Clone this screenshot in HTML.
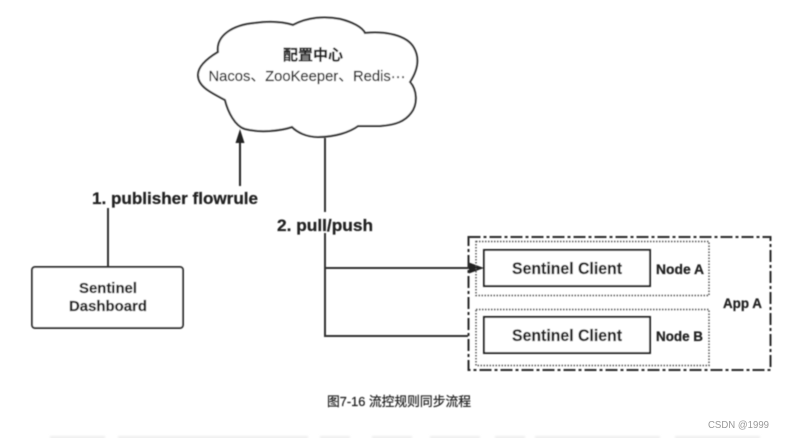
<!DOCTYPE html>
<html lang="zh">
<head>
<meta charset="utf-8">
<title>流控规则同步流程</title>
<style>
html,body{margin:0;padding:0;background:#fff;width:790px;height:438px;overflow:hidden}
svg{display:block;position:absolute;left:0;top:0}
.b{font-family:"Liberation Sans","Noto Sans CJK SC",sans-serif;font-weight:700;fill:#222;stroke:#222;stroke-width:.25px}
.r{font-family:"Liberation Sans","Noto Sans CJK SC",sans-serif;fill:#1c1c1c;stroke:#1c1c1c;stroke-width:.2px}
</style>
</head>
<body>
<svg width="790" height="438" viewBox="0 0 790 438" xmlns="http://www.w3.org/2000/svg">
<defs>
<filter id="s" x="-5%" y="-5%" width="110%" height="110%"><feGaussianBlur stdDeviation="0.4"/></filter>
<filter id="f" x="-5%" y="-100%" width="110%" height="300%"><feGaussianBlur stdDeviation="1"/></filter>
</defs>
<g filter="url(#s)">
<!-- Cloud -->
<path d="M225 100 C212 93 198 87 198 75 C198 66 208 58 218 52 C216 36 232 25 255 23 C270 21 283 22 293 25 C308 17 325 16 340 19 C352 22 362 27 365 33 C385 31 407 35 414 48 C419 57 419 68 410 82 C417 90 418 104 411 113 C405 121 396 125 380 126 L358 126 C350 132 335 137 318 137 C306 137 297 132 292 127 C280 131 260 133 245 129 C235 126 228 112 225 100 Z" fill="#fff" stroke="#333" stroke-width="2"/>
<text class="b" x="283" y="60" font-size="15" textLength="60" lengthAdjust="spacingAndGlyphs">配置中心</text>
<text class="r" x="208.500" y="81" font-size="14.500" textLength="197" lengthAdjust="spacingAndGlyphs">Nacos、ZooKeeper、Redis···</text>

<!-- Connectors -->
<path d="M108 208V267" fill="none" stroke="#333" stroke-width="2"/>
<path d="M240 186V142" fill="none" stroke="#222" stroke-width="2"/>
<path d="M240 129L235.500 143H244.500Z" fill="#222"/>
<path d="M325 138V212M325 233V336H468M325 268H472" fill="none" stroke="#333" stroke-width="2"/>
<path d="M484 268L469 262.500V273.500Z" fill="#222"/>

<!-- Labels -->
<text class="b" x="92" y="204" font-size="17" textLength="166" lengthAdjust="spacingAndGlyphs">1. publisher flowrule</text>
<text class="b" x="277" y="231" font-size="17" textLength="96" lengthAdjust="spacingAndGlyphs">2. pull/push</text>

<!-- Dashboard -->
<rect x="32" y="267" width="151" height="61" rx="3" fill="#fff" stroke="#333" stroke-width="2"/>
<text class="b" x="79" y="293" font-size="15" textLength="58" lengthAdjust="spacingAndGlyphs">Sentinel</text>
<text class="b" x="69" y="311" font-size="15" textLength="78" lengthAdjust="spacingAndGlyphs">Dashboard</text>

<!-- App A -->
<rect x="468.500" y="237" width="302" height="133" fill="none" stroke="#2a2a2a" stroke-width="2" stroke-dasharray="12 3 3 3"/>
<rect x="476" y="241.500" width="233" height="54" fill="none" stroke="#555" stroke-width="1.500" stroke-dasharray="1.500 1.500"/>
<rect x="476" y="309.500" width="233" height="56" fill="none" stroke="#555" stroke-width="1.500" stroke-dasharray="1.500 1.500"/>
<rect x="484" y="250" width="166" height="36" fill="#fff" stroke="#222" stroke-width="2"/>
<rect x="484" y="317" width="166" height="36" fill="#fff" stroke="#222" stroke-width="2"/>
<text class="b" x="512" y="274" font-size="16.500" textLength="110" lengthAdjust="spacingAndGlyphs">Sentinel Client</text>
<text class="b" x="512" y="341" font-size="16.500" textLength="110" lengthAdjust="spacingAndGlyphs">Sentinel Client</text>
<text class="b" x="656" y="274" font-size="13.500" textLength="48" lengthAdjust="spacingAndGlyphs">Node A</text>
<text class="b" x="656" y="341" font-size="13.500" textLength="47" lengthAdjust="spacingAndGlyphs">Node B</text>
<text class="b" x="723" y="308" font-size="13.500" textLength="39" lengthAdjust="spacingAndGlyphs">App A</text>

<!-- Caption -->
<text class="r" x="327" y="406" font-size="13" textLength="144" lengthAdjust="spacingAndGlyphs">图7-16 流控规则同步流程</text>
</g>

<text x="708" y="428" font-family="'Liberation Sans',sans-serif" font-size="10.500" fill="#999" textLength="61" lengthAdjust="spacingAndGlyphs">CSDN @1999</text>

<!-- Faint bottom text strip -->
<g fill="#eeeeee" filter="url(#f)">
<rect x="50" y="436" width="55" height="3"/>
<rect x="118" y="436" width="190" height="3"/>
<rect x="320" y="436" width="30" height="3"/>
<rect x="372" y="436" width="40" height="3"/>
<rect x="430" y="436" width="50" height="3"/>
<rect x="495" y="436" width="30" height="3"/>
<rect x="535" y="436" width="125" height="3"/>
<rect x="675" y="436" width="85" height="3"/>
</g>
</svg>
</body>
</html>
